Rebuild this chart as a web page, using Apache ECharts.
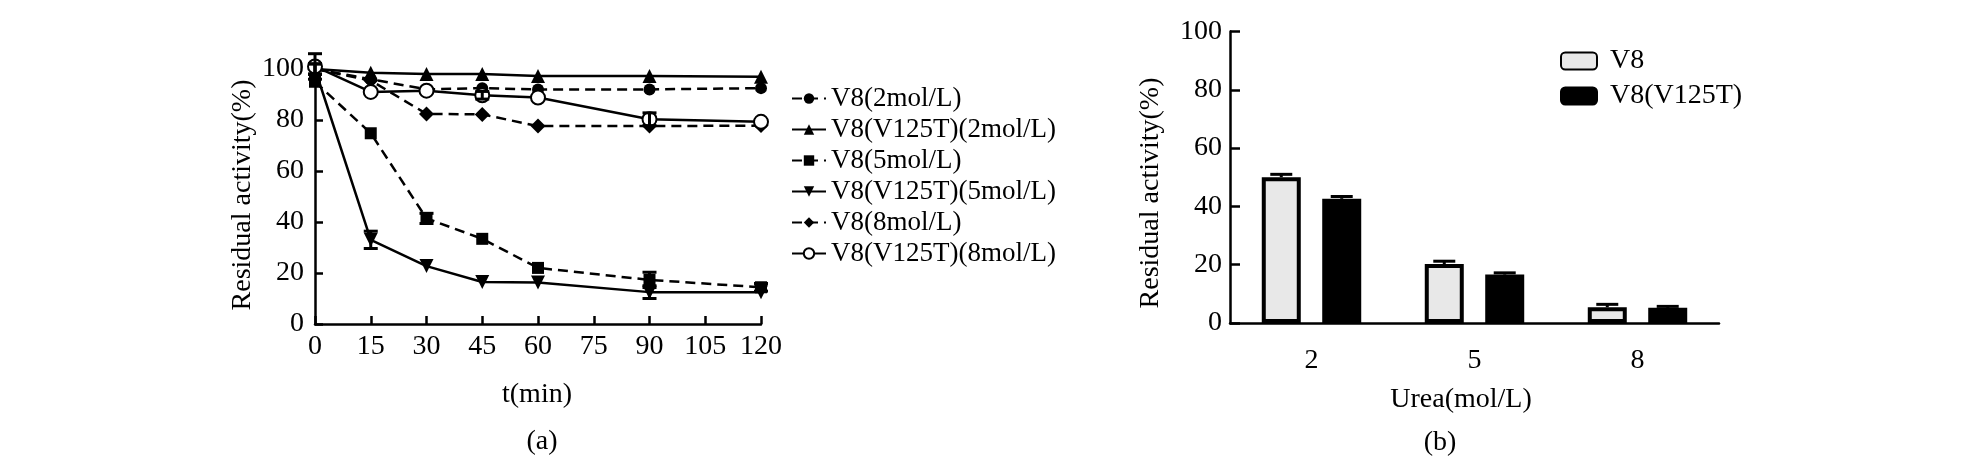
<!DOCTYPE html>
<html>
<head>
<meta charset="utf-8">
<script src="https://cdn.jsdelivr.net/npm/echarts@6/dist/echarts.min.js"></script>
<style>
  html, body { margin: 0; padding: 0; background: #fff; }
  #chart { width: 1972px; height: 461px; }
</style>
</head>
<body>
<div id="chart"></div>
<script>
  // (a) residual activity over time
  const times = [0, 15, 30, 45, 60, 90, 120];
  const v8_2 = [100, 96, 92, 92.5, 92, 92, 92.5];
  const v125t_2 = [100, 98.5, 98, 98, 97.3, 97.3, 97];
  const v8_5 = [95, 74.8, 41.4, 33.4, 22, 17.3, 14.4];
  const v125t_5 = [100, 33, 22.7, 16.5, 16.3, 12.5, 12.5];
  const v8_8 = [100, 95.5, 82.4, 82.2, 77.6, 77.6, 77.8];
  const v125t_8 = [101, 91, 91.5, 89.7, 88.8, 80.3, 79.3];
  // error bars (+/-)
  const err_v8_2 = [2, 0, 0, 0, 0, 0, 0];
  const err_v125t_2 = [2, 0, 0, 0, 0, 0, 0];
  const err_v8_5 = [0, 0, 2, 0, 0, 3, 1.5];
  const err_v125t_5 = [0, 3.4, 0, 0, 0, 2.5, 0];
  const err_v8_8 = [0, 0, 0, 0, 0, 0, 0];
  const err_v125t_8 = [5, 0, 0, 1.5, 0, 2.5, 0];

  // (b) residual activity vs urea
  const ureaCats = ['2', '5', '8'];
  const barV8 = [50, 20.2, 5.4];
  const barV125T = [42.6, 16.6, 5.2];
  const barErrV8 = [1, 1, 1];
  const barErrV125T = [0.8, 0.6, 0.5];

  const FONT = 'Liberation Serif';
  const AX = { color: '#000', width: 2.5 };
  const NAME_FONT = '28px "Liberation Serif"';

  let myChart = echarts.init(document.getElementById('chart'));

  const lineDefs = [
    { name: 'V8(2mol/L)', data: v8_2, err: err_v8_2, symbol: 'circle', size: 12, dashed: true },
    { name: 'V8(V125T)(2mol/L)', data: v125t_2, err: err_v125t_2, symbol: 'triangle', size: 14, dashed: false },
    { name: 'V8(5mol/L)', data: v8_5, err: err_v8_5, symbol: 'rect', size: 12, dashed: true },
    { name: 'V8(V125T)(5mol/L)', data: v125t_5, err: err_v125t_5, symbol: 'path://M0,0 L10,0 L5,9 Z', size: 14, dashed: false },
    { name: 'V8(8mol/L)', data: v8_8, err: err_v8_8, symbol: 'diamond', size: 15, dashed: true },
    { name: 'V8(V125T)(8mol/L)', data: v125t_8, err: err_v125t_8, symbol: 'emptyCircle', size: 14, dashed: false }
  ];

  const lineSeries = lineDefs.map(function (d) {
    return {
      name: d.name,
      type: 'line',
      xAxisIndex: 0,
      yAxisIndex: 0,
      data: times.map(function (t, i) { return [t, d.data[i]]; }),
      symbol: d.symbol,
      symbolSize: d.size,
      showAllSymbol: true,
      clip: false,
      lineStyle: { color: '#000', width: 2.5, type: d.dashed ? [10, 6] : 'solid' },
      itemStyle: { color: '#000', borderColor: '#000', borderWidth: d.symbol === 'emptyCircle' ? 3.5 : 0 },
      emphasis: { disabled: true },
      z: 3
    };
  });

  // error bars for (a)
  const errData = [];
  lineDefs.forEach(function (d) {
    times.forEach(function (t, i) {
      if (d.err[i] > 0) errData.push([t, d.data[i] - d.err[i], d.data[i] + d.err[i]]);
    });
  });

  function errRender(capW, offset, upperOnly) {
    return function (params, api) {
      const lo = api.coord([api.value(0), api.value(1)]);
      const hi = api.coord([api.value(0), api.value(2)]);
      const x = lo[0] + offset;
      const st = { stroke: '#000', lineWidth: 3 };
      const kids = [
        { type: 'line', shape: { x1: x, y1: lo[1], x2: x, y2: hi[1] }, style: st },
        { type: 'line', shape: { x1: x - capW, y1: hi[1], x2: x + capW, y2: hi[1] }, style: st }
      ];
      if (!upperOnly) kids.push({ type: 'line', shape: { x1: x - capW, y1: lo[1], x2: x + capW, y2: lo[1] }, style: st });
      return { type: 'group', children: kids };
    };
  }

  const barW = 39;
  const barGapPct = 0.55;
  const barOff = (barW + barW * barGapPct) / 2;

  myChart.setOption({
    backgroundColor: '#fff',
    animation: false,
    textStyle: { fontFamily: FONT, color: '#000' },
    grid: [
      { left: 315, right: 1211, top: 69, bottom: 137 },
      { left: 1230, right: 253, top: 31.5, bottom: 138 }
    ],
    legend: [
      {
        data: lineDefs.map(function (d) { return d.name; }),
        orient: 'vertical',
        left: 786,
        top: 80,
        itemWidth: 34,
        itemHeight: 13,
        itemGap: 4,
        textStyle: { fontFamily: FONT, fontSize: 27, color: '#000', lineHeight: 27 }
      },
      {
        data: ['V8', 'V8(V125T)'],
        orient: 'vertical',
        left: 1555,
        top: 42,
        icon: 'roundRect',
        itemWidth: 36,
        itemHeight: 17,
        itemGap: 7,
        textStyle: { fontFamily: FONT, fontSize: 28, color: '#000', lineHeight: 27, padding: [0, 0, 0, 8] }
      }
    ],
    xAxis: [
      {
        type: 'value', gridIndex: 0, min: 0, max: 120, interval: 15,
        axisLine: { lineStyle: AX },
        axisTick: { inside: true, length: 8, lineStyle: AX },
        axisLabel: { fontFamily: FONT, fontSize: 28, color: '#000', margin: 9 },
        splitLine: { show: false }
      },
      {
        type: 'category', gridIndex: 1, data: ureaCats,
        axisLine: { lineStyle: AX },
        axisTick: { alignWithLabel: true, length: 9, lineStyle: AX },
        axisLabel: { fontFamily: FONT, fontSize: 28, color: '#000', margin: 24 },
        splitLine: { show: false }
      }
    ],
    yAxis: [
      {
        type: 'value', gridIndex: 0, min: 0, max: 100, interval: 20,
        axisLine: { show: true, lineStyle: AX },
        axisTick: { show: true, inside: true, length: 8, lineStyle: AX },
        axisLabel: { fontFamily: FONT, fontSize: 28, color: '#000', margin: 11 },
        splitLine: { show: false }
      },
      {
        type: 'value', gridIndex: 1, min: 0, max: 100, interval: 20,
        axisLine: { show: true, lineStyle: AX },
        axisTick: { show: true, inside: true, length: 10, lineStyle: AX },
        axisLabel: { fontFamily: FONT, fontSize: 28, color: '#000', margin: 8 },
        splitLine: { show: false }
      }
    ],
    graphic: [
      { type: 'text', x: 243, y: 195, rotation: Math.PI / 2,
        style: { text: 'Residual activity(%)', font: NAME_FONT, fill: '#000', textAlign: 'center', textVerticalAlign: 'middle' } },
      { type: 'text', x: 537, y: 395,
        style: { text: 't(min)', font: NAME_FONT, fill: '#000', textAlign: 'center', textVerticalAlign: 'middle' } },
      { type: 'text', x: 542, y: 442,
        style: { text: '(a)', font: NAME_FONT, fill: '#000', textAlign: 'center', textVerticalAlign: 'middle' } },
      { type: 'text', x: 1151, y: 193, rotation: Math.PI / 2,
        style: { text: 'Residual activity(%)', font: NAME_FONT, fill: '#000', textAlign: 'center', textVerticalAlign: 'middle' } },
      { type: 'text', x: 1461, y: 400,
        style: { text: 'Urea(mol/L)', font: NAME_FONT, fill: '#000', textAlign: 'center', textVerticalAlign: 'middle' } },
      { type: 'text', x: 1440, y: 443,
        style: { text: '(b)', font: NAME_FONT, fill: '#000', textAlign: 'center', textVerticalAlign: 'middle' } }
    ],
    series: lineSeries.concat([
      {
        type: 'custom', name: 'errA', xAxisIndex: 0, yAxisIndex: 0,
        data: errData, renderItem: errRender(7, 0, false), clip: false, z: 4,
        silent: true
      },
      {
        name: 'V8', type: 'bar', xAxisIndex: 1, yAxisIndex: 1, data: barV8,
        barWidth: barW, barGap: (barGapPct * 100) + '%',
        itemStyle: { color: '#e8e8e8', borderColor: '#000', borderWidth: 4 },
        emphasis: { disabled: true }
      },
      {
        name: 'V8(V125T)', type: 'bar', xAxisIndex: 1, yAxisIndex: 1, data: barV125T,
        barWidth: barW,
        itemStyle: { color: '#000', borderColor: '#000', borderWidth: 4 },
        emphasis: { disabled: true }
      },
      {
        type: 'custom', name: 'errB1', xAxisIndex: 1, yAxisIndex: 1,
        data: barV8.map(function (v, i) { return [i, v, v + barErrV8[i]]; }),
        renderItem: errRender(11, -barOff, true), z: 4, silent: true
      },
      {
        type: 'custom', name: 'errB2', xAxisIndex: 1, yAxisIndex: 1,
        data: barV125T.map(function (v, i) { return [i, v, v + barErrV125T[i]]; }),
        renderItem: errRender(11, barOff, true), z: 4, silent: true
      }
    ])
  });
</script>
</body>
</html>
